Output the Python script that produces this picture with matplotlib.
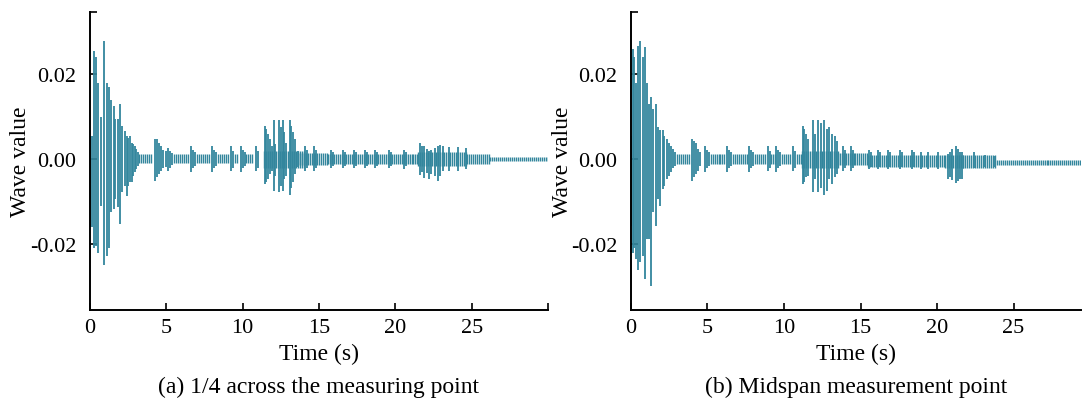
import numpy as np
import matplotlib.pyplot as plt

plt.rcParams['font.family'] = ['Liberation Serif', 'DejaVu Serif']
plt.rcParams['axes.unicode_minus'] = False

# ---- panel (a): 1/4 span point ----
# spikes: time (s), upper value, lower value
a_t = [0.03, 0.13, 0.26, 0.37, 0.52, 0.74, 0.9, 1.11, 1.26, 1.39, 1.55, 1.66, 1.83, 1.98, 2.09, 2.26, 2.4, 2.5, 2.6, 2.72, 2.83, 2.94, 3.04, 3.12,
       4.25, 4.38, 4.52, 4.66, 4.8, 4.95,
       5.14, 5.27, 5.4,
       6.6, 6.73, 6.86,
       8.02, 8.15, 8.28,
       9.26, 9.39,
       9.87, 10.0, 10.13,
       10.85, 10.98,
       11.46, 11.56, 11.68, 11.78, 11.9, 12.05, 12.15, 12.38, 12.48, 12.64, 12.74, 12.85, 13.07, 13.17, 13.3, 13.45, 13.6,
       14.07, 14.2, 14.66, 14.8,
       15.8, 15.93, 16.6, 16.73, 17.3, 17.43, 18.0, 18.13, 18.7, 18.83, 19.6, 19.73, 20.6, 20.73,
       21.6, 21.72, 21.9, 22.05, 22.2, 22.35, 22.6, 22.8, 22.94, 23.1, 23.5, 24.1, 24.64]
a_hi = [0.0055, 0.0055, 0.0255, 0.024, 0.018, 0.010, 0.0278, 0.018, 0.017, 0.014, 0.0125, 0.0094, 0.0094, 0.013, 0.0078, 0.0067, 0.0055, 0.005, 0.0055, 0.0039, 0.0035, 0.0031, 0.0024, 0.0016,
        0.0047, 0.0047, 0.0039, 0.003, 0.0022, 0.0018,
        0.0027, 0.002, 0.0015,
        0.0031, 0.0022, 0.0016,
        0.0031, 0.0022, 0.0016,
        0.0031, 0.002,
        0.0031, 0.0022, 0.0016,
        0.0031, 0.002,
        0.0077, 0.007, 0.0059, 0.0047, 0.0031, 0.0092, 0.0035, 0.0092, 0.0075, 0.0092, 0.0063, 0.0039, 0.0092, 0.0078, 0.0063, 0.0047, 0.0018,
        0.0031, 0.0022, 0.003, 0.0022,
        0.0021, 0.0016, 0.0021, 0.0016, 0.0021, 0.0016, 0.0021, 0.0016, 0.0021, 0.0016, 0.0021, 0.0016, 0.0021, 0.0016,
        0.0039, 0.0031, 0.0031, 0.0024, 0.0019, 0.0022, 0.0027, 0.0031, 0.0033, 0.0031, 0.0029, 0.0029, 0.0027]
a_lo = [-0.016, -0.016, -0.021, -0.0204, -0.022, -0.011, -0.025, -0.0227, -0.021, -0.0125, -0.0118, -0.0094, -0.0113, -0.0153, -0.0078, -0.0063, -0.0086, -0.0063, -0.0055, -0.0055, -0.004, -0.003, -0.0024, -0.0016,
        -0.0051, -0.0043, -0.0035, -0.0027, -0.0022, -0.0018,
        -0.0027, -0.002, -0.0015,
        -0.003, -0.0022, -0.0016,
        -0.003, -0.0022, -0.0016,
        -0.0029, -0.002,
        -0.003, -0.0022, -0.0016,
        -0.0029, -0.002,
        -0.0059, -0.0055, -0.0047, -0.0035, -0.0027, -0.0075, -0.0039, -0.0078, -0.0063, -0.0075, -0.0047, -0.0039, -0.0085, -0.0067, -0.0055, -0.0035, -0.0018,
        -0.0027, -0.0022, -0.0027, -0.0022,
        -0.0022, -0.0016, -0.0022, -0.0016, -0.0022, -0.0016, -0.0022, -0.0016, -0.0022, -0.0016, -0.0022, -0.0016, -0.0024, -0.0016,
        -0.0038, -0.0031, -0.0045, -0.0033, -0.0047, -0.0035, -0.004, -0.0051, -0.004, -0.0027, -0.0027, -0.0027, -0.0024]
# low-level ringing between spikes: start, end, upper, lower
a_fill_start = [3.2, 5.5, 7.0, 8.4, 9.5, 10.25, 11.4, 13.6, 15.6, 21.5, 24.7, 26.2]
a_fill_end = [4.1, 6.45, 7.85, 9.15, 9.75, 10.75, 14.1, 15.6, 21.5, 24.7, 26.2, 30.0]
a_fill_hi = [0.0012, 0.0011, 0.0011, 0.0011, 0.0011, 0.0011, 0.002, 0.0015, 0.0012, 0.0016, 0.0011, 0.0005]
a_fill_lo = [-0.001, -0.001, -0.001, -0.001, -0.001, -0.001, -0.002, -0.0015, -0.0012, -0.0016, -0.0011, -0.0004]

# ---- panel (b): midspan point ----
b_t = [0.03, 0.11, 0.22, 0.33, 0.44, 0.61, 0.76, 0.92, 1.05, 1.2, 1.31, 1.46, 1.63, 1.79, 1.92, 2.07, 2.18, 2.35, 2.5, 2.61, 2.77, 2.9,
       3.98, 4.11, 4.25, 4.38, 4.52,
       4.84, 4.97, 5.1,
       6.3, 6.43, 6.56,
       7.72, 7.85, 7.98,
       8.93, 9.06,
       9.5, 9.63, 9.76,
       10.6, 10.73,
       11.23, 11.33, 11.45, 11.58, 11.9, 12.05, 12.24, 12.4, 12.63, 12.78, 12.96, 13.13, 13.3, 13.45,
       13.84, 13.97, 14.4, 14.53,
       15.58, 15.71, 16.16, 16.29, 16.78, 16.91, 17.6, 17.73, 18.35, 18.48, 18.95, 19.4, 20.05,
       20.7, 20.85, 21.0, 21.24, 21.35, 21.5, 21.62,
       22.44, 23.1, 23.75]
b_hi = [0.0055, 0.0259, 0.024, 0.018, 0.0266, 0.0278, 0.0239, 0.0263, 0.018, 0.0129, 0.0145, 0.0118, 0.0129, 0.0075, 0.0068, 0.0068, 0.0055, 0.0047, 0.0039, 0.0031, 0.0024, 0.0016,
        0.0047, 0.0043, 0.0039, 0.0024, 0.0016,
        0.0031, 0.0022, 0.0016,
        0.0031, 0.0022, 0.0016,
        0.0031, 0.0022, 0.0016,
        0.0031, 0.002,
        0.0031, 0.0022, 0.0016,
        0.0031, 0.002,
        0.0077, 0.007, 0.0059, 0.0047, 0.0092, 0.0059, 0.0092, 0.0086, 0.0092, 0.0071, 0.0075, 0.0059, 0.0055, 0.0043,
        0.0031, 0.0022, 0.003, 0.0022,
        0.0021, 0.0016, 0.0021, 0.0016, 0.0021, 0.0016, 0.0021, 0.0016, 0.0021, 0.0016, 0.0016, 0.0016, 0.0016,
        0.0012, 0.0016, 0.0024, 0.0031, 0.0024, 0.0016, 0.0016,
        0.0017, 0.0009, 0.0007]
b_lo = [-0.0157, -0.022, -0.021, -0.0235, -0.026, -0.0243, -0.0227, -0.0282, -0.0188, -0.0188, -0.0298, -0.0125, -0.0157, -0.0094, -0.011, -0.0071, -0.0063, -0.0047, -0.0039, -0.0031, -0.002, -0.0016,
        -0.0051, -0.0043, -0.0035, -0.0027, -0.0016,
        -0.003, -0.0022, -0.0016,
        -0.003, -0.0022, -0.0016,
        -0.003, -0.0022, -0.0016,
        -0.0029, -0.002,
        -0.003, -0.0022, -0.0016,
        -0.0029, -0.002,
        -0.0059, -0.0055, -0.0043, -0.0039, -0.0077, -0.0047, -0.0078, -0.0067, -0.0085, -0.0074, -0.0047, -0.0059, -0.0043, -0.0035,
        -0.0027, -0.0022, -0.0027, -0.0022,
        -0.0023, -0.0018, -0.0023, -0.0018, -0.0023, -0.0018, -0.0023, -0.0018, -0.0023, -0.0018, -0.0023, -0.0023, -0.0023,
        -0.0047, -0.0042, -0.005, -0.0056, -0.0052, -0.0047, -0.0047,
        -0.0021, -0.0019, -0.0019]
b_fill_start = [3.0, 5.2, 6.65, 8.1, 9.15, 9.9, 10.85, 11.2, 13.5, 15.5, 20.5, 21.7, 23.9]
b_fill_end = [3.85, 6.15, 7.6, 8.85, 9.45, 10.5, 11.15, 13.6, 15.5, 20.5, 21.7, 23.9, 29.4]
b_fill_hi = [0.0012, 0.0011, 0.0011, 0.0011, 0.0011, 0.0011, 0.0011, 0.002, 0.0015, 0.0009, 0.001, 0.001, -0.0002]
b_fill_lo = [-0.0012, -0.0011, -0.0011, -0.0011, -0.0011, -0.0011, -0.0011, -0.002, -0.0015, -0.0018, -0.002, -0.002, -0.0015]

color = '#33869d'
tick_fs = 16
label_fs = 17

fig = plt.figure(figsize=(10.83, 4.06), dpi=100)
ax_a = fig.add_axes([0.0831, 0.234, 0.4229, 0.734])
ax_b = fig.add_axes([0.5826, 0.234, 0.4155, 0.734])


def draw(ax, t, hi, lo, fs_, fe_, fh, fl, xmax, caption):
    # background ringing drawn as thin closely spaced strokes
    for s, e, h, l in zip(fs_, fe_, fh, fl):
        tt = np.arange(s, e, 0.13)
        ax.vlines(tt, l, h, color=color, lw=1.0)
    ax.vlines(t, lo, hi, color=color, lw=1.3)
    ax.set_xlim(0, xmax)
    ax.set_ylim(-0.0355, 0.0346)
    ax.set_xticks([0, 5, 10, 15, 20, 25])
    ax.set_yticks([-0.02, 0.0, 0.02])
    ax.set_yticklabels(['-0.02', '0.00', '0.02'])
    ax.set_yticks([0.0346], minor=True)
    if xmax >= 30:
        ax.set_xticks([30], minor=True)
    ax.tick_params(direction='in', length=5, width=1.2, labelsize=tick_fs, pad=6)
    ax.tick_params(axis='y', pad=10)
    ax.tick_params(which='minor', direction='in', length=5, width=1.2)
    for side in ['top', 'right']:
        ax.spines[side].set_visible(False)
    for side in ['left', 'bottom']:
        ax.spines[side].set_linewidth(1.4)
    ax.set_xlabel('Time (s)', fontsize=label_fs, labelpad=4)
    ax.set_ylabel('Wave value', fontsize=label_fs)
    ax.yaxis.set_label_coords(-0.129, 0.5)
    ax.text(0.5, -0.256, caption, transform=ax.transAxes, ha='center', va='center', fontsize=label_fs)


draw(ax_a, a_t, a_hi, a_lo, a_fill_start, a_fill_end, a_fill_hi, a_fill_lo, 30.0,
     '(a) 1/4 across the measuring point')
draw(ax_b, b_t, b_hi, b_lo, b_fill_start, b_fill_end, b_fill_hi, b_fill_lo, 29.4,
     '(b) Midspan measurement point')

fig.savefig('out.png', dpi=100)
